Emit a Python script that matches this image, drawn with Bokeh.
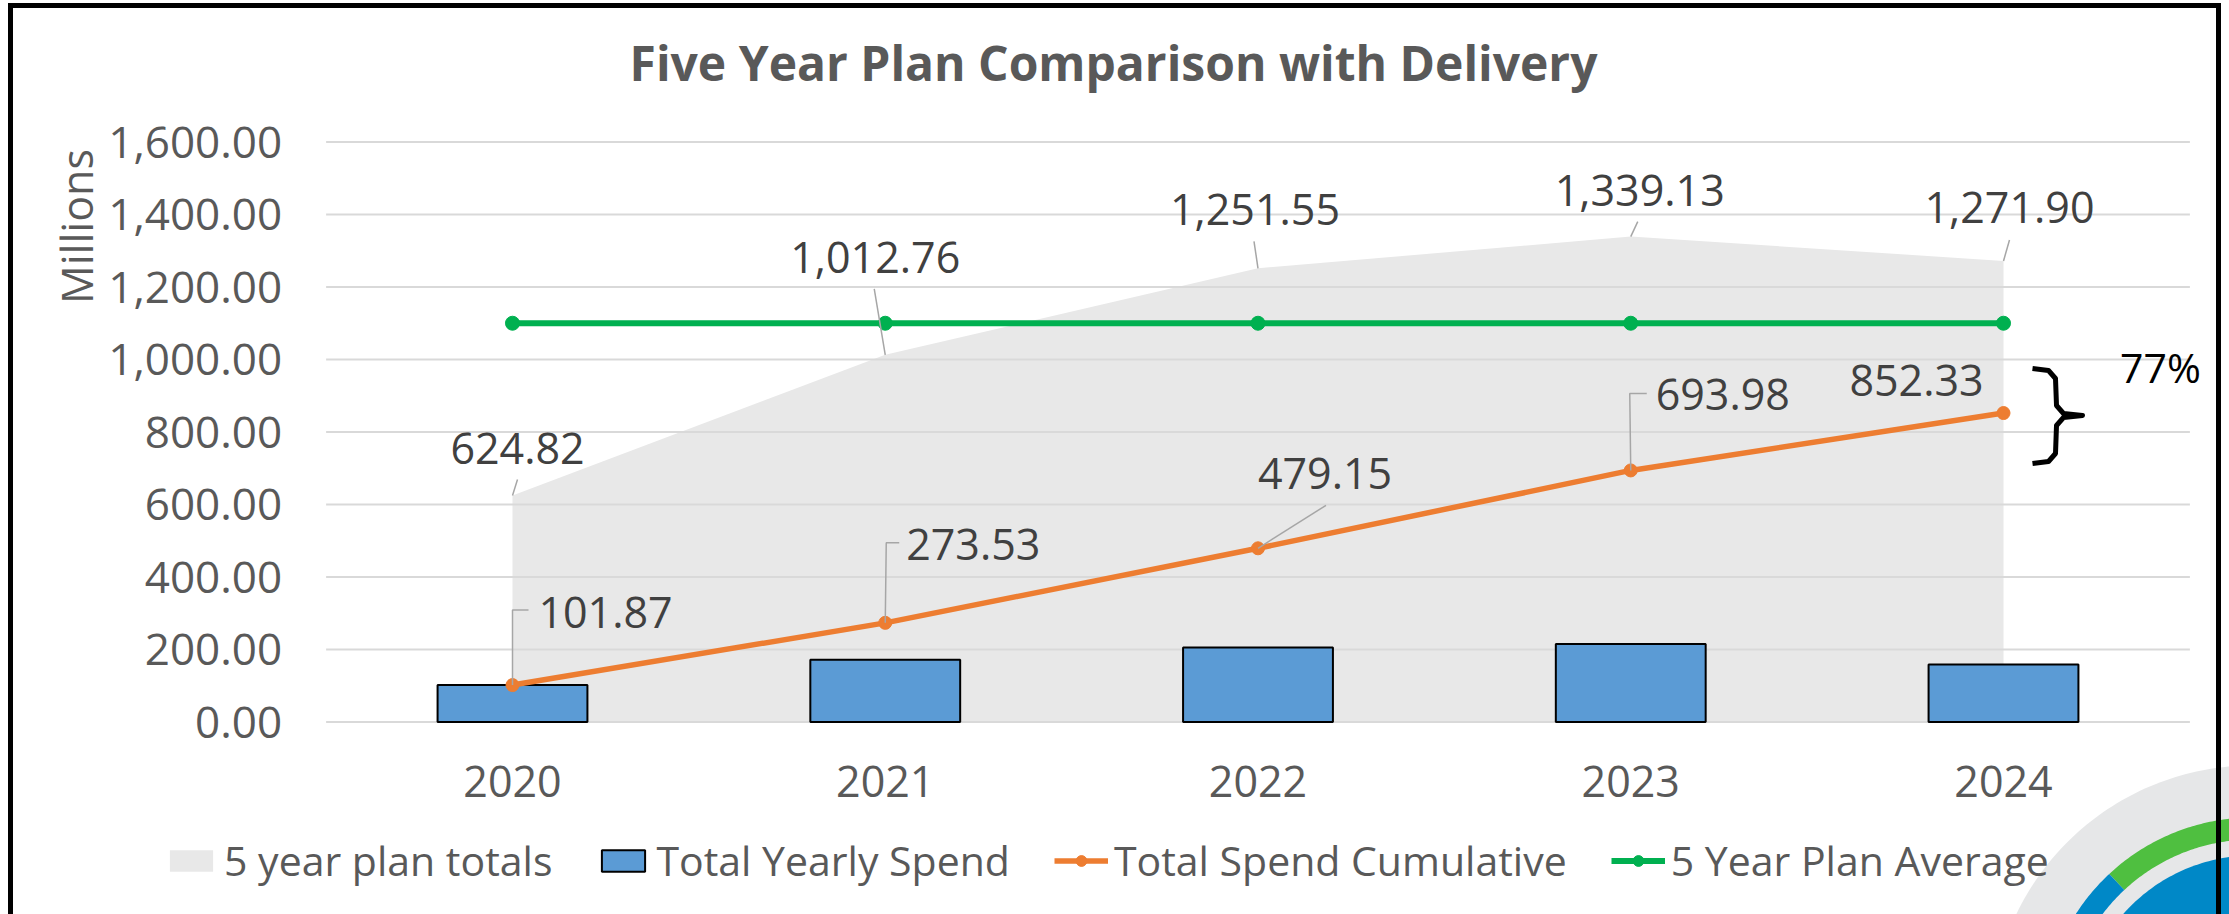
import numpy as np
from bokeh.plotting import figure
from bokeh.models import (Range1d, FixedTicker, NumeralTickFormatter, Legend, LegendItem,
                          InlineStyleSheet)
from bokeh.core.properties import value
from bokeh.embed import file_html
from bokeh.resources import INLINE

# ---------------- data ----------------
years = ["2020", "2021", "2022", "2023", "2024"]
plan_totals = [624.82, 1012.76, 1251.55, 1339.13, 1271.90]
yearly_spend = [101.87, 171.66, 205.62, 214.83, 158.35]
cumulative = [101.87, 273.53, 479.15, 693.98, 852.33]
plan_average = [1100.03, 1100.03, 1100.03, 1100.03, 1100.03]
y_ticks = [0, 200, 400, 600, 800, 1000, 1200, 1400, 1600]
gap_label = "77%"
title_text = "Five Year Plan Comparison with Delivery"
y_title = "Millions"

# ---------------- layout (pixels) ----------------
W, H = 2229, 914
X0, PX_X = 512.0, 372.75      # pixel of first category, pixels per category
Y0, PX_Y = 721.5, 0.3625      # pixel of value 0, pixels per value unit


def xd(px):
    return (px - X0) / PX_X


def yd(py):
    return (Y0 - py) / PX_Y


FONT = "Open Sans"
TXT = "#595959"
LBL = "#404040"
LEAD = "#a6a6a6"

idx = list(range(len(years)))

p = figure(width=W, height=H, x_range=Range1d(xd(0), xd(W)), y_range=Range1d(yd(H), yd(0)),
           output_backend="svg", toolbar_location=None, min_border=0,
           min_border_left=0, min_border_right=0, min_border_top=0, min_border_bottom=0)
p.outline_line_color = None
p.background_fill_color = "white"
p.border_fill_color = "white"
p.xgrid.visible = False
p.ygrid.visible = False

# outer black frame (page decoration)
p.stylesheets = [InlineStyleSheet(css="""
:host { overflow: hidden; }
:host::after { content: ""; position: absolute; left: 8px; top: 3px; width: 2213px;
  height: 980px; border: 5px solid black; box-sizing: border-box; pointer-events: none;
  z-index: 100; }
""")]

# axes drawn at fixed data locations
for ax in (p.xaxis[0], p.yaxis[0]):
    ax.axis_line_color = None
    ax.major_tick_line_color = None
    ax.minor_tick_line_color = None
    ax.major_tick_in = 0
    ax.major_tick_out = 0
    ax.major_label_text_font = FONT
    ax.major_label_text_color = TXT

p.xaxis.fixed_location = 0
p.xaxis.ticker = FixedTicker(ticks=idx)
p.xaxis.major_label_overrides = {i: y for i, y in enumerate(years)}
p.xaxis.major_label_standoff = 44
p.xaxis.major_label_text_font_size = "43px"

p.yaxis.fixed_location = -0.5
p.yaxis.ticker = FixedTicker(ticks=y_ticks)
p.yaxis.formatter = NumeralTickFormatter(format="0,0.00")
p.yaxis.major_label_standoff = 44
p.yaxis.major_label_text_font_size = "44px"

# ---------------- logo (corner decoration) ----------------
LC = (2252, 1027)


def ring(r0, r1, a0, a1, n=120):
    t = np.linspace(np.radians(a0), np.radians(a1), n)
    ox = LC[0] + r1 * np.cos(t)
    oy = LC[1] - r1 * np.sin(t)
    ix = LC[0] + r0 * np.cos(t[::-1])
    iy = LC[1] - r0 * np.sin(t[::-1])
    return [xd(v) for v in np.r_[ox, ix]], [yd(v) for v in np.r_[oy, iy]]


logo_parts = [(0, 262, 60, 200, "#e6e7e8"), (188, 210, 60, 133, "#4fbf40"),
              (188, 210, 133, 200, "#0088c7"), (0, 172, 60, 200, "#0088c7")]
for r0, r1, a0, a1, col in logo_parts:
    lx_, ly_ = ring(r0, r1, a0, a1)
    p.patch(lx_, ly_, fill_color=col, line_color=None)

# ---------------- series ----------------
r_area = p.varea(x=idx, y1=[0] * len(idx), y2=plan_totals, fill_color="#e8e8e8")
# horizontal gridlines across the category span, above the area
p.segment(x0=[idx[0] - 0.5] * len(y_ticks), x1=[idx[-1] + 0.5] * len(y_ticks),
          y0=y_ticks, y1=y_ticks, line_color="#d9d9d9", line_width=2)
r_bar = p.vbar(x=idx, top=yearly_spend, bottom=0, width=0.402, fill_color="#5b9bd5",
               line_color="black", line_width=2)
r_cl = p.line(idx, cumulative, line_color="#ed7d31", line_width=5.5)
r_cs = p.scatter(idx, cumulative, size=13, fill_color="#ed7d31", line_color="#ed7d31")
r_al = p.line(idx, plan_average, line_color="#00b050", line_width=6)
r_as = p.scatter(idx, plan_average, size=14, fill_color="#00b050", line_color="#00b050")

# ---------------- data labels ----------------
plan_lab_off = [(5, -47), (-10, -97), (-3, -59), (9, -46), (6, -53)]
plan_leader = [[(5, -16), (0, 0)], [(-11, -66), (0, 0)], [(-4, -27), (0, 0)],
               [(7, -15), (0, 0)], [(6, -21), (0, 0)]]
cum_lab_off = [(93, -73), (88, -78), (67, -75), (92, -76), (-87, -33)]
cum_leader = [[(0, 0), (0, -75), (16, -75)], [(0, 0), (1, -80), (14, -80)],
              [(68, -43), (0, 0)], [(0, 0), (-1, -77), (16, -77)], []]


def place(series, offs):
    xs, ys = [], []
    for i, (ox, oy) in enumerate(offs):
        xs.append(idx[i] + ox / PX_X)
        ys.append(series[i] - oy / PX_Y)
    return xs, ys


def leaders(series, paths):
    mx, my = [], []
    for i, path in enumerate(paths):
        if not path:
            continue
        mx.append([idx[i] + ox / PX_X for ox, oy in path])
        my.append([series[i] - oy / PX_Y for ox, oy in path])
    return mx, my


for series, offs, paths in ((plan_totals, plan_lab_off, plan_leader),
                            (cumulative, cum_lab_off, cum_leader)):
    mx, my = leaders(series, paths)
    p.multi_line(mx, my, line_color=LEAD, line_width=1.5)
    lx, ly = place(series, offs)
    p.text(x=lx, y=ly, text=[f"{v:,.2f}" for v in series], text_align="center",
           text_baseline="middle", text_font=value(FONT), text_font_size="43px",
           text_color=LBL)

# brace + percentage
brace_px = [(2032, 368), (2048, 370), (2055, 378), (2056, 405), (2063, 413), (2082, 415),
            (2063, 417), (2056, 425), (2055, 453), (2048, 461), (2032, 463)]
p.line([xd(a) for a, b in brace_px], [yd(b) for a, b in brace_px], line_color="black",
       line_width=5, line_join="round")
p.text(x=[xd(2160)], y=[yd(366)], text=[gap_label], text_align="center",
       text_baseline="middle", text_font=value(FONT), text_font_size="41px",
       text_color="black")

# title and axis title
p.text(x=[xd(1113)], y=[yd(62)], text=[title_text], text_align="center",
       text_baseline="middle", text_font=value(FONT), text_font_size="48px",
       text_font_style="bold", text_color=TXT)
p.text(x=[xd(76)], y=[yd(226)], text=[y_title], angle=np.pi / 2, text_align="center",
       text_baseline="middle", text_font=value(FONT), text_font_size="43px",
       text_color=TXT)

# legend
legend = Legend(items=[
    LegendItem(label="5 year plan totals", renderers=[r_area]),
    LegendItem(label="Total Yearly Spend", renderers=[r_bar]),
    LegendItem(label="Total Spend Cumulative", renderers=[r_cl, r_cs]),
    LegendItem(label="5 Year Plan Average", renderers=[r_al, r_as]),
], orientation="horizontal", location=(164, 26),
    glyph_width=54, glyph_height=27, label_standoff=6, spacing=44, padding=0, margin=0,
    border_line_color=None, background_fill_alpha=0,
    label_text_font=FONT, label_text_font_size="41px", label_text_color=TXT)
p.add_layout(legend, "center")

open("out.html", "w").write(file_html(p, INLINE))
